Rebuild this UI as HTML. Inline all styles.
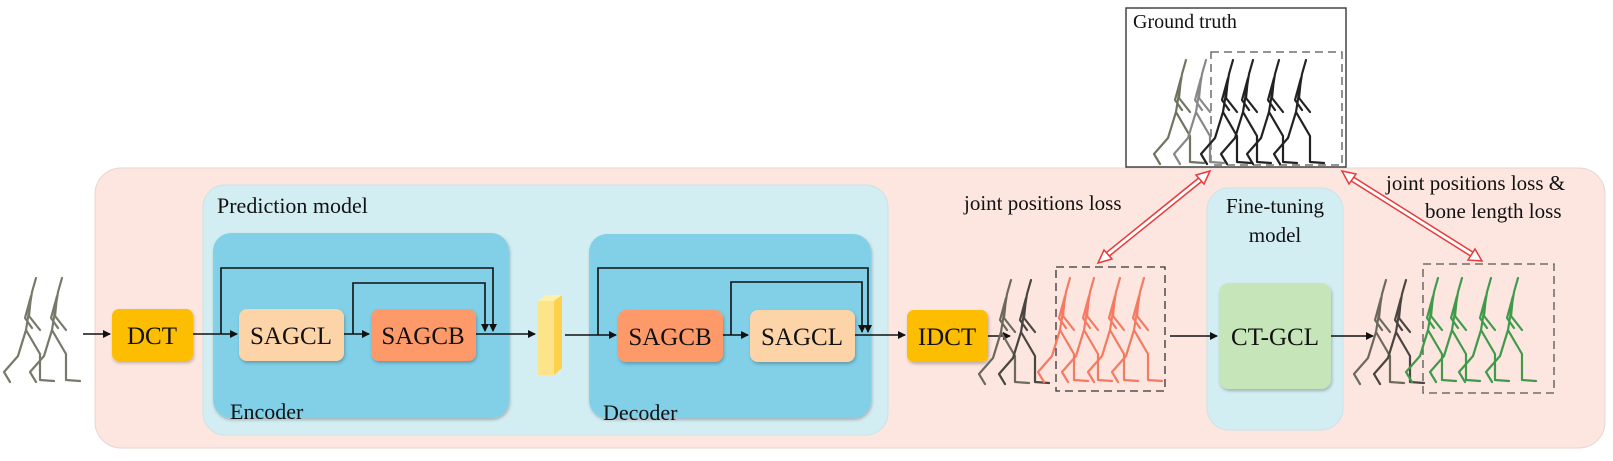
<!DOCTYPE html>
<html><head><meta charset="utf-8"><style>
body{margin:0;background:#fff;}
text{font-family:"Liberation Serif","Times New Roman",serif !important;fill:#111;}
</style></head><body>
<svg width="1613" height="456" viewBox="0 0 1613 456" xmlns="http://www.w3.org/2000/svg" font-family="Liberation Serif, serif">
<defs>
<symbol id="sk" overflow="visible">
<path d="M26,0 L22,14 L16,52 M21,18 L19,38 L30,52 M21,18 L15,40 L22,50 M16,52 L30,76 L30,102 L44,103 M16,52 L8,78 L-6,94 L0,104" fill="none" stroke-width="2.2" stroke-linejoin="round" stroke-linecap="round"/>
</symbol>
<marker id="ah" markerWidth="8" markerHeight="8" refX="7" refY="4" orient="auto" markerUnits="userSpaceOnUse"><path d="M0,0 L8,4 L0,8 z" fill="#111"/></marker>
<filter id="sh" x="-10%" y="-10%" width="120%" height="120%"><feDropShadow dx="1" dy="2" stdDeviation="1.5" flood-opacity="0.25"/></filter>
</defs>

<rect x="95" y="168" width="1510" height="280" rx="26" fill="#fde6e0" stroke="#e8d6d2"/>
<rect x="203" y="185" width="685" height="250" rx="22" fill="#d3eef3" stroke="#c9e3e8"/>
<text x="217" y="213" font-size="22" font-family="Liberation Serif, serif">Prediction model</text>
<rect x="213" y="233" width="296" height="185" rx="18" fill="#81d0e8" filter="url(#sh)"/>
<text x="230" y="419" font-size="22" font-family="Liberation Serif, serif">Encoder</text>
<rect x="589" y="234" width="282" height="184" rx="18" fill="#81d0e8" filter="url(#sh)"/>
<text x="603" y="420" font-size="22" font-family="Liberation Serif, serif">Decoder</text>
<rect x="1207" y="188" width="136" height="242" rx="22" fill="#d3eef3" stroke="#c9e3e8"/>
<text x="1275" y="213" font-size="21" text-anchor="middle" font-family="Liberation Serif, serif">Fine-tuning</text>
<text x="1275" y="242" font-size="21" text-anchor="middle" font-family="Liberation Serif, serif">model</text>

<g filter="url(#sh)">
<rect x="112" y="309" width="81" height="52" rx="7" fill="#fdbd00"/>
<rect x="239" y="309" width="105" height="52" rx="8" fill="#fdd3a8"/>
<rect x="371" y="309" width="105" height="52" rx="8" fill="#fe9a6a"/>
<rect x="618" y="310" width="105" height="52" rx="8" fill="#fe9a6a"/>
<rect x="750" y="310" width="105" height="52" rx="8" fill="#fdd3a8"/>
<rect x="907" y="310" width="81" height="52" rx="7" fill="#fdbd00"/>
<rect x="1219" y="283" width="112" height="106" rx="10" fill="#c6e5b8"/>
</g>
<g font-family="Liberation Serif, serif" font-size="25" text-anchor="middle">
<text x="152" y="344">DCT</text>
<text x="291" y="344">SAGCL</text>
<text x="423" y="344">SAGCB</text>
<text x="670" y="345">SAGCB</text>
<text x="802" y="345">SAGCL</text>
<text x="947" y="345">IDCT</text>
<text x="1275" y="345">CT-GCL</text>
</g>

<polygon points="538,301 546,295 562,295 554,301" fill="#fff0a8"/>
<polygon points="554,301 562,295 562,368 554,375" fill="#fdd24a"/>
<rect x="538" y="301" width="16" height="74" fill="#fde48a"/>

<g stroke="#111" stroke-width="1.6" fill="none">
<line x1="83" y1="334" x2="110" y2="334" marker-end="url(#ah)"/>
<line x1="193" y1="334" x2="237" y2="334" marker-end="url(#ah)"/>
<line x1="344" y1="334" x2="369" y2="334" marker-end="url(#ah)"/>
<line x1="476" y1="334" x2="535" y2="334" marker-end="url(#ah)"/>
<polyline points="221,334 221,268 493,268 493,331" marker-end="url(#ah)"/>
<polyline points="353,334 353,283 485,283 485,331" marker-end="url(#ah)"/>
<line x1="565" y1="335" x2="616" y2="335" marker-end="url(#ah)"/>
<line x1="723" y1="335" x2="748" y2="335" marker-end="url(#ah)"/>
<line x1="855" y1="335" x2="905" y2="335" marker-end="url(#ah)"/>
<polyline points="598,335 598,268 868,268 868,332" marker-end="url(#ah)"/>
<polyline points="731,335 731,282 862,282 862,332" marker-end="url(#ah)"/>
<line x1="988" y1="336" x2="1010" y2="336" marker-end="url(#ah)"/>
<line x1="1170" y1="336" x2="1217" y2="336" marker-end="url(#ah)"/>
<line x1="1331" y1="336" x2="1373" y2="336" marker-end="url(#ah)"/>
</g>

<rect x="1126" y="8" width="220" height="159" fill="#fff" stroke="#444" stroke-width="1.5"/>
<text x="1133" y="28" font-size="20" font-family="Liberation Serif, serif">Ground truth</text>
<rect x="1211" y="52" width="131" height="113" fill="none" stroke="#555" stroke-width="1.3" stroke-dasharray="8,5"/>
<g>
<use href="#sk" x="1160" y="60" stroke="#6f7560"/>
<use href="#sk" x="1180" y="60" stroke="#888"/>
<use href="#sk" x="1207" y="60" stroke="#222"/>
<use href="#sk" x="1227" y="60" stroke="#222"/>
<use href="#sk" x="1253" y="60" stroke="#222"/>
<use href="#sk" x="1280" y="60" stroke="#222"/>
</g>

<use href="#sk" x="10" y="278" stroke="#777a6a"/>
<use href="#sk" x="36" y="278" stroke="#777a6a"/>

<rect x="1056" y="267" width="109" height="124" fill="none" stroke="#333" stroke-width="1.3" stroke-dasharray="8,5"/>
<use href="#sk" x="985" y="280" stroke="#6d6a5c"/>
<use href="#sk" x="1005" y="280" stroke="#4a4540"/>
<use href="#sk" x="1044" y="278" stroke="#f47a62"/>
<use href="#sk" x="1068" y="278" stroke="#f47a62"/>
<use href="#sk" x="1094" y="278" stroke="#f47a62"/>
<use href="#sk" x="1118" y="278" stroke="#f47a62"/>

<rect x="1423" y="264" width="131" height="129" fill="none" stroke="#555" stroke-width="1.3" stroke-dasharray="8,5"/>
<use href="#sk" x="1360" y="280" stroke="#6d6a5c"/>
<use href="#sk" x="1380" y="280" stroke="#4a4540"/>
<use href="#sk" x="1412" y="278" stroke="#3f9a4a"/>
<use href="#sk" x="1436" y="278" stroke="#3f9a4a"/>
<use href="#sk" x="1465" y="278" stroke="#3f9a4a"/>
<use href="#sk" x="1492" y="278" stroke="#3f9a4a"/>

<g fill="none">
<line x1="1206" y1="175" x2="1102" y2="259" stroke="#e83a3a" stroke-width="6"/>
<line x1="1206" y1="175" x2="1102" y2="259" stroke="#fff" stroke-width="3"/>
<line x1="1346" y1="175" x2="1478" y2="258" stroke="#e83a3a" stroke-width="6"/>
<line x1="1346" y1="175" x2="1478" y2="258" stroke="#fff" stroke-width="3"/>
</g>
<polygon points="1210,171 1196,175 1204,184" fill="#fff" stroke="#e83a3a" stroke-width="1.5"/>
<polygon points="1098,263 1112,259 1104,250" fill="#fff" stroke="#e83a3a" stroke-width="1.5"/>
<polygon points="1342,171 1356,174 1349,184" fill="#fff" stroke="#e83a3a" stroke-width="1.5"/>
<polygon points="1482,261 1468,260 1475,249" fill="#fff" stroke="#e83a3a" stroke-width="1.5"/>

<g font-family="Liberation Serif, serif" font-size="21">
<text x="964" y="210">joint positions loss</text>
<text x="1386" y="190">joint positions loss &amp;</text>
<text x="1425" y="218">bone length loss</text>
</g>
</svg>
</body></html>
